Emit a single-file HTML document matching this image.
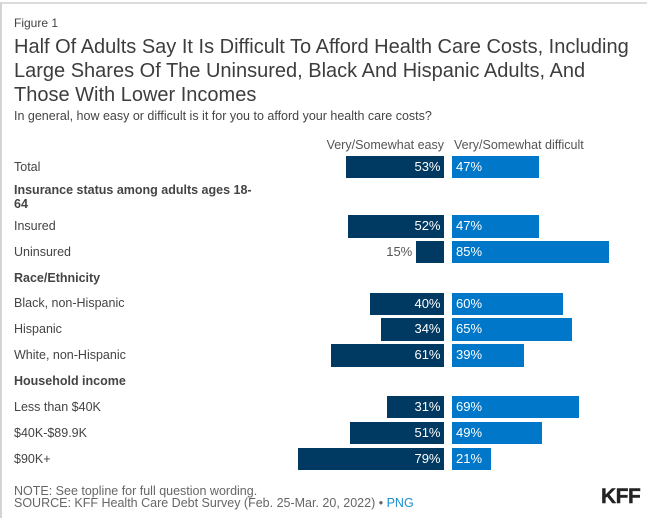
<!DOCTYPE html>
<html>
<head>
<meta charset="utf-8">
<style>
html,body{margin:0;padding:0;background:#fff}
#chart{position:relative;width:647px;height:518px;overflow:hidden;font-family:"Liberation Sans",sans-serif;color:#444}
#chart div{position:absolute;white-space:nowrap}
.frame-top{left:0;top:2px;width:647px;height:2px;background:#dcdcdc}
.frame-left{left:0;top:2px;width:2px;height:516px;background:#d4d4d4}
</style>
</head>
<body>
<div id="chart">
<div class="frame-top"></div>
<div class="frame-left"></div>
<div style="left:14px;top:15px;font-size:12px;line-height:16px">Figure 1</div>
<div style="left:14px;top:35px;font-size:20px;line-height:24px;color:#3d3d3d">Half Of Adults Say It Is Difficult To Afford Health Care Costs, Including<br>Large Shares Of The Uninsured, Black And Hispanic Adults, And<br>Those With Lower Incomes</div>
<div style="left:14px;top:108px;font-size:12.5px;line-height:16px">In general, how easy or difficult is it for you to afford your health care costs?</div>
<div style="right:203px;top:137px;font-size:12.5px;line-height:16px;color:#555">Very/Somewhat easy</div>
<div style="left:454px;top:137px;font-size:12.5px;line-height:16px;color:#555">Very/Somewhat difficult</div>
<div style="left:14px;top:486px;font-size:12.5px;line-height:11.5px;color:#666">NOTE: See topline for full question wording.<br>SOURCE: KFF Health Care Debt Survey (Feb. 25-Mar. 20, 2022) • <span style="color:#1a8fd1">PNG</span></div>
<div style="left:601px;top:485px;font-size:21px;line-height:24px;font-weight:bold;color:#222;letter-spacing:-0.5px;-webkit-text-stroke:0.4px #222">KFF</div>
<div id="rows" style="left:0;top:0;width:647px;height:518px"></div>
</div>
<script>
var categories = ["Total","Insured","Uninsured","Black, non-Hispanic","Hispanic","White, non-Hispanic","Less than $40K","$40K-$89.9K","$90K+"];
var easyValues = [53,52,15,40,34,61,31,51,79];
var difficultValues = [47,47,85,60,65,39,69,49,21];
var easyLabels = ["53%","52%","15%","40%","34%","61%","31%","51%","79%"];
var difficultLabels = ["47%","47%","85%","60%","65%","39%","69%","49%","21%"];
var headings = ["Insurance status among adults ages 18-\n64","Race/Ethnicity","Household income"];

var container = document.getElementById('rows');
var easyBase = 444, diffBase = 451.8, unit = 1.85, barH = 22.6, pitch = 25.85;
function widthOf(v){ return v * unit; }
function rowTop(i){
  if (i === 0) return 155.6;
  if (i <= 2) return 215 + (i - 1) * pitch;
  if (i <= 5) return 292.6 + (i - 3) * pitch;
  return 395.8 + (i - 6) * pitch;
}
function place(el, css, text){
  el.style.cssText = css;
  if (text !== undefined) el.textContent = text;
  container.appendChild(el);
}
categories.forEach(function(c, i){
  var y = rowTop(i);
  var textTop = Math.round(y + 3);
  var label = document.createElement('div');
  
  
  place(label, 'left:14px;top:' + (i === 3 ? textTop - 1 : textTop) + 'px;font-size:12.5px;line-height:16px;', c);

  var ew = widthOf(easyValues[i]);
  var e = document.createElement('div');
  
  
  place(e, 'left:' + (easyBase - ew) + 'px;top:' + y + 'px;width:' + ew + 'px;height:' + barH + 'px;background:#003a63;');

  var inside = easyValues[i] >= 20;
  var el = document.createElement('div');
  
  
  place(el, 'right:' + (647 - (inside ? easyBase - 3.5 : easyBase - ew - 4)) + 'px;top:' + textTop + 'px;font-size:13px;line-height:16px;color:' + (inside ? '#fff' : '#555') + ';', easyLabels[i]);

  var dw = widthOf(difficultValues[i]);
  var d = document.createElement('div');
  
  
  place(d, 'left:' + diffBase + 'px;top:' + y + 'px;width:' + dw + 'px;height:' + barH + 'px;background:#0077c8;');

  var dl = document.createElement('div');
  
  
  place(dl, 'left:' + (diffBase + 4.2) + 'px;top:' + textTop + 'px;font-size:13px;line-height:16px;color:#fff;', difficultLabels[i]);
});
var headingTops = [183, 271, 374];
headings.forEach(function(h, i){
  var el = document.createElement('div');
  
  
  place(el, 'left:14px;top:' + headingTops[i] + 'px;font-size:12.5px;line-height:14px;font-weight:bold;white-space:pre;', h);
});
</script>
</body>
</html>
